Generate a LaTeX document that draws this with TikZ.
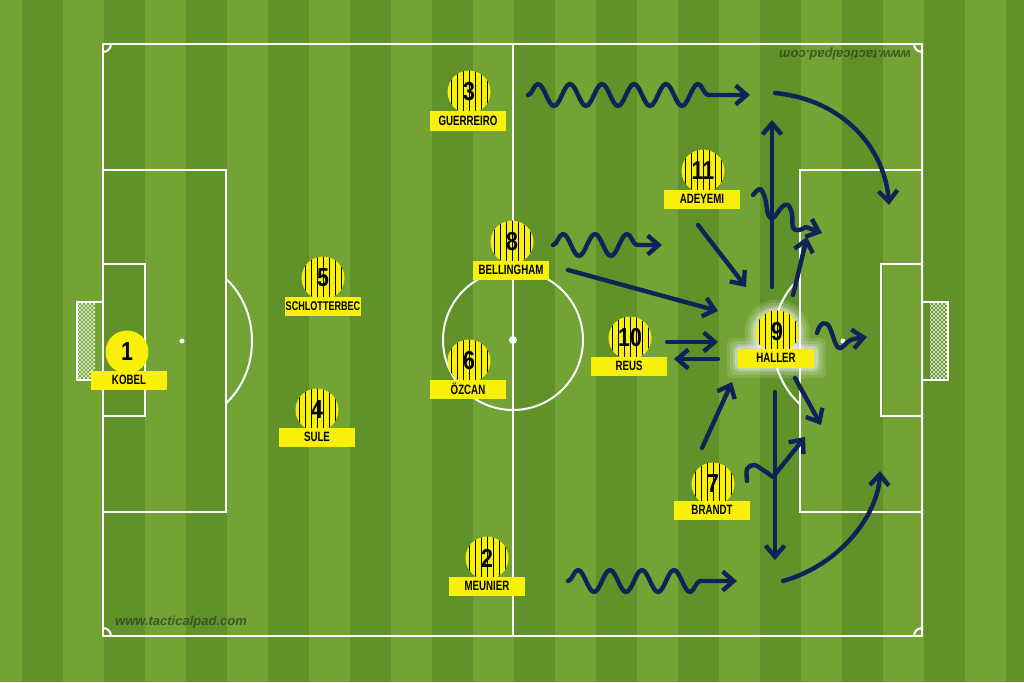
\documentclass[tikz,border=0pt]{standalone}
\usepackage{fontspec}
\setmainfont{Liberation Sans}
\newfontfamily\condf[FakeStretch=0.72]{Liberation Sans Bold}
\newfontfamily\numf[FakeStretch=0.82]{Liberation Sans Bold}
\newfontfamily\wmfont{Liberation Sans Bold Italic}
\usetikzlibrary{arrows.meta,decorations.pathmorphing}
\definecolor{grassL}{RGB}{114,163,52}
\definecolor{grassD}{RGB}{97,146,42}
\definecolor{kit}{RGB}{248,240,8}
\definecolor{navy}{RGB}{16,34,86}
\definecolor{wm}{RGB}{45,62,30}
\tikzset{
 pline/.style={white, line width=2pt},
 lbl/.style={fill=kit, minimum width=76pt, minimum height=19pt, inner sep=0pt, font=\condf\fontsize{13.5}{14}\selectfont, text=black},
 num/.style={inner sep=0pt, font=\numf\fontsize{26}{26}\selectfont, text=black},
 mv/.style={navy, line width=4.4pt, line cap=round, line join=round, -{Straight Barb[length=11pt,width=19pt]}},
 wavy/.style={decorate, decoration={snake, amplitude=11pt, segment length=32pt, post length=#1}},
 wmark/.style={text=wm, opacity=0.75, font=\wmfont\fontsize{13}{13}\selectfont, inner sep=0pt},
 netl/.style={white, line width=0.6pt, opacity=0.85}
}
\newcommand{\plyr}[8]{%
 \fill[kit] (#2,#3) circle[radius=21.5pt];
 \ifnum#8=1
 \begin{scope}
 \clip (#2,#3) circle[radius=21.5pt];
 \foreach \k in {-3,...,3} \draw[black, line width=1pt] ({#2+\k*6},{#3-25}) -- ({#2+\k*6},{#3+25});
 \end{scope}
 \fi
 \node[num] (#1n) at (#2,#3) {#4};
 \node[lbl] (#1) at (#5,#6) {#7};
}
\begin{document}
\begin{tikzpicture}[x=1pt,y=-1pt]
\useasboundingbox (0,0) rectangle (1024,682);
\fill[grassL] (0,0) rectangle (1024,682);
\foreach \i in {-1,...,12} \fill[grassD] ({22+82*\i},0) rectangle ({63+82*\i},682);

% pitch
\draw[pline] (103,44) rectangle (922,636);
\draw[pline] (513,44) -- (513,636);
\draw[pline] (513,340) circle[radius=70pt];
\fill[white] (513,340) circle[radius=4pt];
\draw[pline] (103,170) rectangle (226,512);
\draw[pline] (103,264) rectangle (145,416);
\fill[white] (182,341) circle[radius=2.5pt];
\draw[pline] (922,170) rectangle (800,512);
\draw[pline] (922,264) rectangle (881,416);
\fill[white] (843,341) circle[radius=2.5pt];
\begin{scope}\clip (226,0) rectangle (400,682); \draw[pline] (182,341) ellipse[x radius=70pt, y radius=80pt]; \end{scope}
\begin{scope}\clip (600,0) rectangle (800,682); \draw[pline] (843,341) ellipse[x radius=70pt, y radius=80pt]; \end{scope}
\begin{scope}\clip (103,44) rectangle (922,636);
\foreach \cx/\cy in {103/44, 922/44, 103/636, 922/636} \draw[pline] (\cx,\cy) circle[radius=8pt];
\end{scope}
% goals
\begin{scope}\clip (77,302) rectangle (95,380);
\foreach \t in {-40,-36,...,120} {\draw[netl] (60,302+\t) -- ++(40,40); \draw[netl] (60,302+\t) -- ++(40,-40);}
\end{scope}
\draw[white, line width=1.5pt] (103,302) -- (77,302) -- (77,380) -- (103,380);
\begin{scope}\clip (930,302) rectangle (948,380);
\foreach \t in {-40,-36,...,120} {\draw[netl] (920,302+\t) -- ++(40,40); \draw[netl] (920,302+\t) -- ++(40,-40);}
\end{scope}
\draw[white, line width=1.5pt] (922,302) -- (948,302) -- (948,380) -- (922,380);

% watermarks
\node[wmark] (wm1) at (181,622) {www.tacticalpad.com};
\node[wmark, rotate=180] (wm2) at (845,54) {www.tacticalpad.com};

% Haller glow
\foreach \g/\o in {11/0.12, 8/0.15, 5/0.2, 3/0.3} {
 \fill[white, opacity=\o] (777,332) circle[radius={21.5+\g}];
 \fill[white, opacity=\o, rounded corners=6pt] ({738-\g},{349-\g}) rectangle ({815+\g},{367+\g});
}

% players
\plyr{kobel}{127}{352}{1}{129}{380}{KOBEL}{0}
\plyr{guerreiro}{469}{92}{3}{468}{121}{GUERREIRO}{1}
\plyr{schlotterbec}{323}{278}{5}{323}{306}{\fontsize{12.6}{13}\selectfont SCHLOTTERBEC}{1}
\plyr{sule}{317}{410}{4}{317}{437}{SULE}{1}
\plyr{bellingham}{512}{242}{8}{511}{270}{BELLINGHAM}{1}
\plyr{ozcan}{469}{361}{6}{468}{389}{ÖZCAN}{1}
\plyr{meunier}{487}{558}{2}{487}{586}{MEUNIER}{1}
\plyr{adeyemi}{703}{171}{11}{702}{199}{ADEYEMI}{1}
\plyr{reus}{630}{338}{10}{629}{366}{REUS}{1}
\plyr{haller}{777}{332}{9}{776}{358}{HALLER}{1}
\plyr{brandt}{713}{484}{7}{712}{510}{BRANDT}{1}

% arrow end points
\coordinate (w1s) at (528,95);   \coordinate (w1e) at (750,95);
\coordinate (c2s) at (775,93);   \coordinate (c2e) at (889,205);
\coordinate (a3s) at (772,287);  \coordinate (a3e) at (772,120);
\coordinate (s4s) at (753,195);  \coordinate (s4e) at (822,233);
\coordinate (a5s) at (793,295);  \coordinate (a5e) at (807,237);
\coordinate (a6s) at (698,225);  \coordinate (a6e) at (746,287);
\coordinate (w7s) at (553,245);  \coordinate (w7e) at (662,245);
\coordinate (a8s) at (568,270);  \coordinate (a8e) at (718,311);
\coordinate (a9s) at (667,342);  \coordinate (a9e) at (718,342);
\coordinate (a10s) at (718,359); \coordinate (a10e) at (674,359);
\coordinate (s11s) at (817,333); \coordinate (s11e) at (867,337);
\coordinate (a12s) at (702,448); \coordinate (a12e) at (732,382);
\coordinate (a13s) at (795,378); \coordinate (a13e) at (821,425);
\coordinate (a14s) at (775,392); \coordinate (a14e) at (775,560);
\coordinate (s15s) at (747,481); \coordinate (s15e) at (805,437);
\coordinate (w16s) at (568,581); \coordinate (w16e) at (737,581);
\coordinate (c17s) at (783,581); \coordinate (c17e) at (880,471);

% arrows
\draw[mv, wavy=42pt] (w1s) -- (w1e);
\draw[mv] (c2s) .. controls (845,100) and (885,150) .. (c2e);
\draw[mv] (a3s) -- (a3e);
\draw[mv] plot[smooth, tension=0.6] coordinates {(s4s) (760,189) (765,198) (768,214) (773,218) (782,207) (788,205) (792,214) (793,228) (799,230) (806,227)} -- (s4e);
\draw[mv] (a5s) -- (a5e);
\draw[mv] (a6s) -- (a6e);
\draw[mv, wavy=18pt] (w7s) -- (w7e);
\draw[mv] (a8s) -- (a8e);
\draw[mv] (a9s) -- (a9e);
\draw[mv] (a10s) -- (a10e);
\draw[mv] (s11s) .. controls (820,322) and (826,320) .. (830,328) .. controls (834,338) and (836,350) .. (841,348) .. controls (845,346) and (848,340) .. (853,339) -- (s11e);
\draw[mv] (a12s) -- (a12e);
\draw[mv] (a13s) -- (a13e);
\draw[mv] (a14s) -- (a14e);
\draw[mv] plot[smooth, tension=0.6] coordinates {(s15s) (747,469) (754,465) (763,470) (773,477)} -- (s15e);
\draw[mv, wavy=25pt] (w16s) -- (w16e);
\draw[mv] (c17s) .. controls (840,565) and (878,515) .. (c17e);
\end{tikzpicture}
\end{document}
